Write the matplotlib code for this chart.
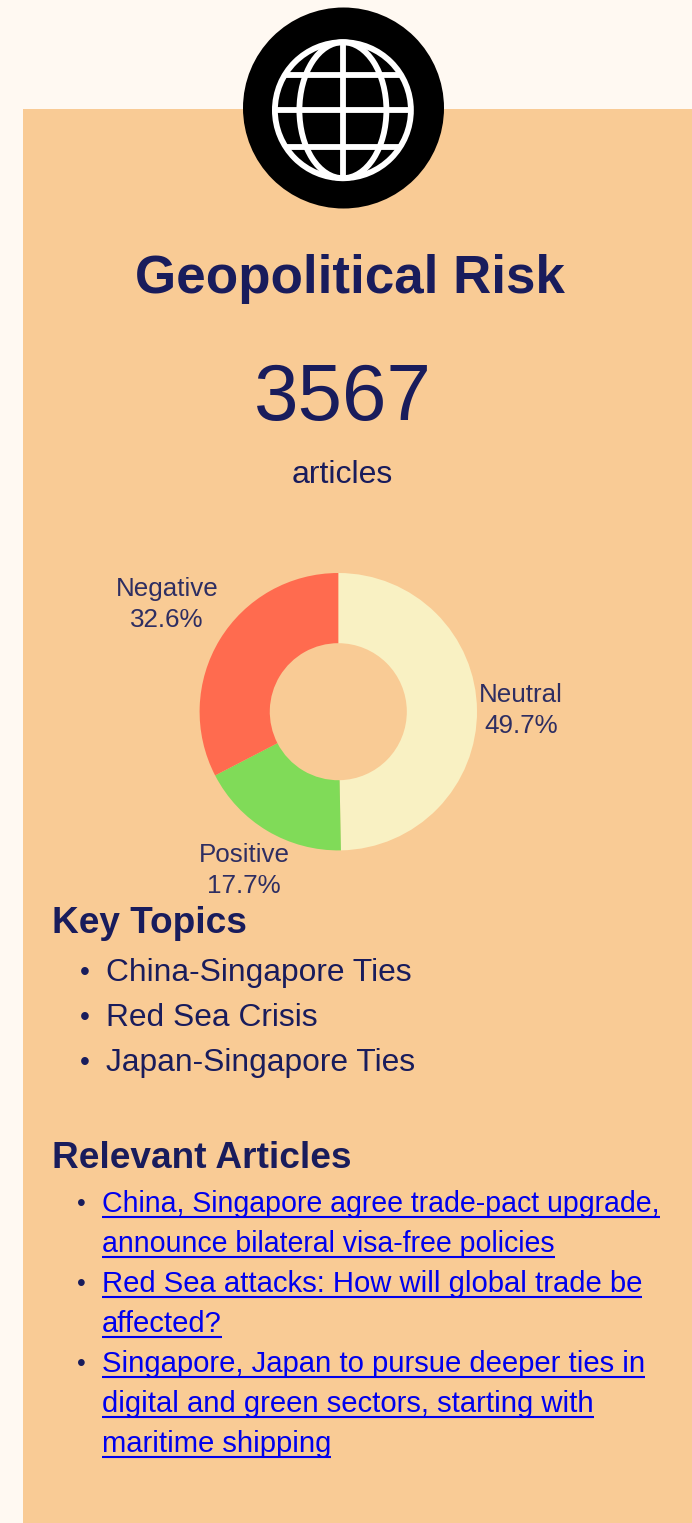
import matplotlib
matplotlib.use("Agg")
import matplotlib.pyplot as plt
from matplotlib.patches import Circle, Ellipse, Rectangle

W, H = 692, 1523
plt.rcParams["font.family"] = ["Liberation Sans", "DejaVu Sans"]

title = "Geopolitical Risk"
article_count = "3567"
count_label = "articles"

sentiments = ["Neutral", "Positive", "Negative"]
shares = [49.7, 17.7, 32.6]
slice_colors = ["#F9F1C3", "#80DB58", "#FF6B4F"]

topics_heading = "Key Topics"
topics = ["China-Singapore Ties", "Red Sea Crisis", "Japan-Singapore Ties"]
articles_heading = "Relevant Articles"
articles = [
    ["China, Singapore agree trade-pact upgrade,", "announce bilateral visa-free policies"],
    ["Red Sea attacks: How will global trade be", "affected?"],
    ["Singapore, Japan to pursue deeper ties in", "digital and green sectors, starting with", "maritime shipping"],
]

NAVY = "#191C5C"
LABEL = "#2E2E62"
PANEL = "#F9CB95"
LINK = "#0000EE"


def px(size):
    # font size given in screen pixels
    return size * 0.72


fig = plt.figure(figsize=(W / 100, H / 100), dpi=100, facecolor="#FFF9F2")
ax = fig.add_axes([0, 0, 1, 1])
ax.set_xlim(0, W)
ax.set_ylim(H, 0)
ax.axis("off")

ax.add_patch(Rectangle((23, 109), W - 23, H - 109, color=PANEL, lw=0))

# globe icon
ax.add_patch(Circle((343.5, 108), 100.5, color="black", lw=0))
gx, gy, gr = 342.9, 110.2, 68
clip = Circle((gx, gy), gr, transform=ax.transData)
ax.add_patch(Circle((gx, gy), gr, fill=False, ec="white", lw=4.2))
ax.add_patch(Ellipse((gx, gy), 87, 2 * gr, fill=False, ec="white", lw=4.2))
for line in [
    ax.plot([gx, gx], [gy - gr, gy + gr], color="white", lw=4.2)[0],
    ax.plot([gx - gr, gx + gr], [gy, gy], color="white", lw=4.2)[0],
    ax.plot([gx - gr, gx + gr], [gy - 35, gy - 35], color="white", lw=4.2)[0],
    ax.plot([gx - gr, gx + gr], [gy + 37, gy + 37], color="white", lw=4.2)[0],
]:
    line.set_clip_path(clip)

ax.text(350, 279, title, fontsize=px(53), fontweight="bold", color=NAVY, ha="center", va="center")
ax.text(343, 399, article_count, fontsize=px(80), color=NAVY, ha="center", va="center")
ax.text(342.5, 475, count_label, fontsize=px(32), color=NAVY, ha="center", va="center")

# donut
cx, cy, r = 338.3, 711.7, 138.7
pie_ax = fig.add_axes([(cx - r) / W, 1 - (cy + r) / H, 2 * r / W, 2 * r / H])
pie_ax.pie(shares, colors=slice_colors, startangle=90, counterclock=False, radius=1,
           wedgeprops={"width": 0.506, "linewidth": 0})
pie_ax.set_xlim(-1, 1)
pie_ax.set_ylim(-1, 1)

label_pos = [(521, 710), (244, 870), (167, 604)]
for name, share, (lx, ly) in zip(sentiments, shares, label_pos):
    ax.text(lx, ly - 15, name, fontsize=px(26), color=LABEL, ha="center", va="center")
    ax.text(lx, ly + 16, f"{share}%", fontsize=px(26), color=LABEL, ha="center", va="center")

ax.text(52, 923, topics_heading, fontsize=px(37), fontweight="bold", color=NAVY, va="center")
for i, topic in enumerate(topics):
    y = 973 + 45 * i
    ax.text(85, y, "•", fontsize=px(28), color=NAVY, ha="center", va="center")
    ax.text(106, y, topic, fontsize=px(31.8), color=NAVY, va="center")

ax.text(52, 1158, articles_heading, fontsize=px(37), fontweight="bold", color=NAVY, va="center")

fig.canvas.draw()
renderer = fig.canvas.get_renderer()
inv = ax.transData.inverted()
y = 1204
for n, lines in enumerate(articles):
    # the first link is set a little tighter in the original
    size = 28.55 if n == 0 else 29.3
    ax.text(81, y, "•", fontsize=px(25), color=NAVY, ha="center", va="center")
    for line in lines:
        t = ax.text(102, y, line, fontsize=px(size), color=LINK, va="center")
        box = t.get_window_extent(renderer)
        x0 = inv.transform((box.x0, box.y0))[0]
        x1 = inv.transform((box.x1, box.y0))[0]
        # text has no underline in matplotlib, so draw it
        ax.plot([x0, x1], [y + 13, y + 13], color=LINK, lw=1.5, solid_capstyle="butt")
        y += 40

fig.savefig("out.png", dpi=100, facecolor=fig.get_facecolor())
plt.close(fig)
